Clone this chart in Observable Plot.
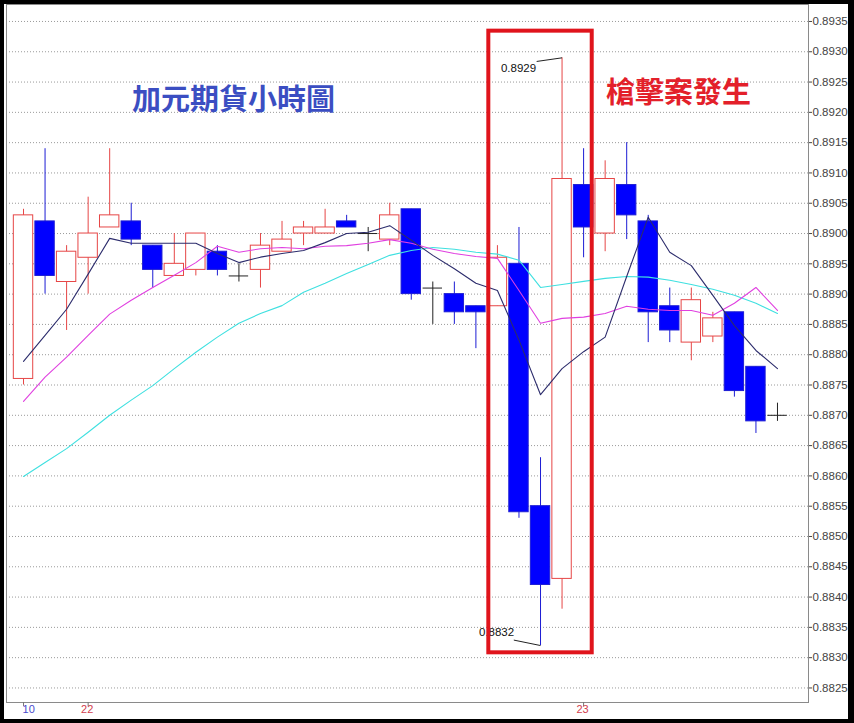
<!DOCTYPE html>
<html><head><meta charset="utf-8">
<script src="https://cdn.jsdelivr.net/npm/d3@7"></script>
<script src="https://cdn.jsdelivr.net/npm/@observablehq/plot@0.6"></script>
<style>
html,body{margin:0;padding:0;background:#000;}
#frame{width:854px;height:723px;box-sizing:border-box;background:#000;padding:4px 6px 4px 4px;}
#chart{width:844px;height:715px;background:#fff;}
svg{display:block}
</style></head><body><div id="frame"><div id="chart"></div></div>
<script>
// Hourly OHLC (CAD futures)
const opens  = [0.8876,0.8902,0.8892,0.8896,0.8901,0.8902,0.8898,0.8893,0.8894,0.8897,0.8893,0.8894,0.8897,0.8900,0.8900,0.8902,0.8900,0.8899,0.8904,0.8891,0.8890,0.8888,0.8888,0.8895,0.8855,0.8843,0.8908,0.8900,0.8908,0.8902,0.8888,0.8882,0.8883,0.8887,0.8878,0.8870];
const highs  = [0.8904,0.8914,0.8898,0.8906,0.8914,0.8905,0.8898,0.8900,0.8900,0.8898,0.8895,0.8900,0.8902,0.8902,0.8904,0.8903,0.8901,0.8905,0.8904,0.8892,0.8892,0.8888,0.8898,0.8901,0.8863,0.8929,0.8914,0.8912,0.8915,0.8903,0.8891,0.8891,0.8887,0.8887,0.8878,0.8872];
const lows   = [0.8875,0.8890,0.8884,0.8890,0.8901,0.8898,0.8891,0.8893,0.8893,0.8893,0.8892,0.8891,0.8897,0.8898,0.8900,0.8901,0.8897,0.8898,0.8889,0.8885,0.8885,0.8881,0.8888,0.8853,0.8832,0.8838,0.8896,0.8897,0.8899,0.8882,0.8882,0.8879,0.8882,0.8873,0.8867,0.8869];
const closes = [0.8903,0.8893,0.8897,0.8900,0.8903,0.8899,0.8894,0.8895,0.8900,0.8894,0.8893,0.8898,0.8899,0.8901,0.8901,0.8901,0.8900,0.8903,0.8890,0.8891,0.8887,0.8887,0.8896,0.8854,0.8842,0.8909,0.8901,0.8909,0.8903,0.8887,0.8884,0.8889,0.8886,0.8874,0.8869,0.8870];

// Moving averages (short / medium / long)
const maShort = [0.88789,0.88832,0.88875,0.88933,0.88992,0.88984,0.88984,0.88984,0.88984,0.88967,0.88952,0.88961,0.88967,0.88972,0.88985,0.89000,0.89002,0.89013,0.88989,0.88964,0.88942,0.88918,0.88906,0.88824,0.88734,0.88777,0.88805,0.88829,0.88929,0.89027,0.88969,0.88947,0.88898,0.88848,0.88807,0.88777];
const maMid   = [0.88723,0.88763,0.88796,0.88832,0.88867,0.88890,0.88911,0.88931,0.88952,0.88979,0.88969,0.88975,0.88977,0.88975,0.88979,0.88980,0.88984,0.88990,0.88984,0.88974,0.88967,0.88962,0.88959,0.88906,0.88852,0.88860,0.88862,0.88868,0.88880,0.88875,0.88873,0.88873,0.88865,0.88885,0.88911,0.88873];
const maLong  = [0.88599,0.88622,0.88645,0.88672,0.88700,0.88725,0.88749,0.88777,0.88804,0.88829,0.88852,0.88868,0.88881,0.88903,0.88918,0.88934,0.88949,0.88964,0.88972,0.88977,0.88974,0.88969,0.88966,0.88956,0.88911,0.88916,0.88921,0.88926,0.88929,0.88928,0.88923,0.88916,0.88908,0.88898,0.88885,0.88868];

// Axis ticks
const yTicks = [0.8825,0.8830,0.8835,0.8840,0.8845,0.8850,0.8855,0.8860,0.8865,0.8870,0.8875,0.8880,0.8885,0.8890,0.8895,0.8900,0.8905,0.8910,0.8915,0.8920,0.8925,0.8930,0.8935];
const xTickIndex = [0, 3, 26];
const xTickLabels = ["10", "22", "23"];
const xTickKinds = ["hour", "day", "day"];

// Annotations
const titleTexts = ["加元期貨小時圖", "槍擊案發生"];
const titleX = [9.75, 30.41];
const titleY = [0.89220, 0.89231];
const noteLabels = ["0.8929", "0.8832"];
const noteX = [22.98, 21.96];
const noteY = [0.89272, 0.88342];
const noteLineX = [23.82, 22.76];
const noteLineY = [0.89284, 0.88329];
const noteTargetX = [25, 24];
const noteTargetY = [0.8929, 0.8832];
const boxFrom = [21.6], boxTo = [26.4], boxTop = [0.89334], boxBottom = [0.88308];

const candles = opens.map((o, i) => ({i, open: o, high: highs[i], low: lows[i], close: closes[i]}));
const up = candles.filter(d => d.close > d.open);
const down = candles.filter(d => d.close < d.open);
const flat = candles.filter(d => d.close === d.open);
const toLine = arr => arr.map((v, i) => ({i, v}));
const titles = titleTexts.map((t, k) => ({t, x: titleX[k], y: titleY[k]}));
const notes = noteLabels.map((t, k) => ({t, x: noteX[k], y: noteY[k], lx: noteLineX[k], ly: noteLineY[k], px: noteTargetX[k], py: noteTargetY[k]}));
const boxes = boxFrom.map((f, k) => ({x1: f, x2: boxTo[k], y1: boxTop[k], y2: boxBottom[k]}));
const xLabs = xTickIndex.map((i, k) => ({i, label: xTickLabels[k], kind: xTickKinds[k]}));

const RED = "#e64646", BLUE = "#0000ff", BLUE_EDGE = "#1c1cd4";
const hw = 0.45;

const chart = Plot.plot({
  width: 844, height: 715,
  marginLeft: 2, marginRight: 40, marginTop: 0, marginBottom: 17,
  x: {domain: [-0.79, 36.44], axis: null},
  y: {domain: [0.88226, 0.89378], axis: null},
  style: {fontFamily: "'Liberation Sans', Arial, sans-serif", fontSize: "11.5px", background: "white", color: "#333", overflow: "visible"},
  marks: [
    Plot.ruleY(yTicks, {y: d => d, stroke: "#9a9a9a", strokeDasharray: "1,2"}),
    Plot.ruleX(up, {x: "i", y1: "low", y2: "high", stroke: RED}),
    Plot.ruleX(down, {x: "i", y1: "low", y2: "high", stroke: BLUE_EDGE}),
    Plot.ruleX(flat, {x: "i", y1: "low", y2: "high", stroke: "#222"}),
    Plot.rect(up, {x1: d => d.i - hw, x2: d => d.i + hw, y1: "open", y2: "close", fill: "white", stroke: RED}),
    Plot.rect(down, {x1: d => d.i - hw, x2: d => d.i + hw, y1: "open", y2: "close", fill: BLUE, stroke: BLUE_EDGE}),
    Plot.ruleY(flat, {y: "close", x1: d => d.i - hw, x2: d => d.i + hw, stroke: "#222"}),
    Plot.line(toLine(maLong), {x: "i", y: "v", stroke: "#3fe0e0", strokeWidth: 1.1}),
    Plot.line(toLine(maMid), {x: "i", y: "v", stroke: "#e040e0", strokeWidth: 1.1}),
    Plot.line(toLine(maShort), {x: "i", y: "v", stroke: "#2c2c6c", strokeWidth: 1.1}),
    Plot.text(titles.slice(0, 1), {x: "x", y: "y", text: "t", fill: "#3b4ec2", fontSize: 29, fontWeight: "bold", fontFamily: "'Noto Sans CJK TC', sans-serif"}),
    Plot.text(titles.slice(1), {x: "x", y: "y", text: "t", fill: "#e3202a", fontSize: 29, fontWeight: "bold", fontFamily: "'Noto Sans CJK TC', sans-serif"}),
    Plot.link(notes, {x1: "lx", y1: "ly", x2: "px", y2: "py", stroke: "#222", strokeWidth: 1}),
    Plot.text(notes, {x: "x", y: "y", text: "t", fill: "#111", fontSize: 11.5}),
    Plot.rect(boxes, {x1: "x1", x2: "x2", y1: "y1", y2: "y2", fill: "none", stroke: "#e0141c", strokeWidth: 4}),
    Plot.frame({stroke: "#8a8a8a"}),
    Plot.axisY(yTicks, {anchor: "right", tickSize: 3, tickPadding: 1, tickFormat: d => d.toFixed(4), color: "#444", fontSize: 11.5, label: null}),
    Plot.axisX(xTickIndex, {anchor: "bottom", tickSize: 4, tickFormat: () => "", color: "#777", label: null}),
    Plot.text(xLabs.filter(d => d.kind === "hour"), {x: "i", text: "label", frameAnchor: "bottom", dy: 10, dx: -1, textAnchor: "start", fill: "#4a4acc", fontSize: 11}),
    Plot.text(xLabs.filter(d => d.kind === "day"), {x: "i", text: "label", frameAnchor: "bottom", dy: 10, dx: -1, fill: "#d2404e", fontSize: 11})
  ]
});
document.getElementById("chart").appendChild(chart);
</script>
</body></html>
